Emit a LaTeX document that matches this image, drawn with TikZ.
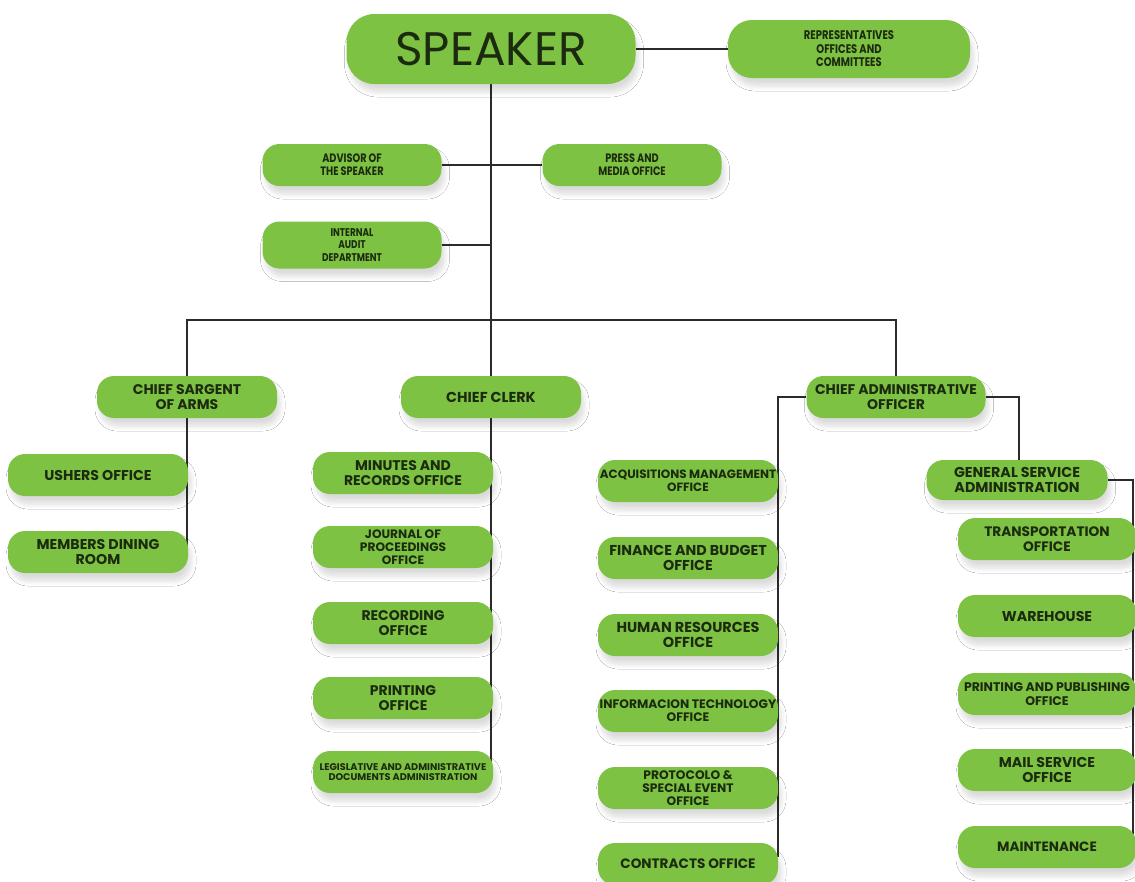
\documentclass[tikz,border=0pt]{standalone}
\usepackage{fontspec}
\setmainfont{Poppins}
\newfontfamily\condfont{Poppins}[FakeStretch=0.8]
\usetikzlibrary{backgrounds,shadows.blur}
\definecolor{boxgreen}{HTML}{7DC242}
\definecolor{txt}{HTML}{1C2A10}
\definecolor{ln}{HTML}{2B2B2B}
\newcommand{\fz}[1]{\fontsize{#1}{\dimexpr #1*108/100\relax}\selectfont}
\tikzset{
  box/.style={fill=boxgreen, draw=none, rounded corners=17pt, text=txt, align=center,
    inner sep=0pt, minimum height=42pt,
    blur shadow={shadow xshift=3pt, shadow yshift=-8pt, shadow opacity=14, shadow blur steps=6, shadow blur radius=5pt}},
  tb/.style={box, font=\bfseries\fz{#1}},
  tb/.default=11pt,
  cb/.style={box, font=\condfont\bfseries\fz{#1}},
  conn/.style={draw=ln, line width=2pt},
}
\begin{document}
\begin{tikzpicture}[x=1pt,y=-1pt]
\useasboundingbox (0,0) rectangle (1135,881);
% top
\node[box, minimum width=289pt, minimum height=70pt, rounded corners=28pt, font=\fz{47pt}] (speaker) at (491,49) {SPEAKER};
\node[cb=12.5pt, minimum width=242pt, minimum height=58pt, rounded corners=24pt] (reps) at (849,49) {REPRESENTATIVES\\OFFICES AND\\COMMITTEES};
\node[cb=12.2pt, minimum width=179pt] (advisor) at (352,165) {ADVISOR OF\\THE SPEAKER};
\node[cb=12.2pt, minimum width=179pt] (press) at (632,165) {PRESS AND\\MEDIA OFFICE};
\node[cb=11.2pt, minimum width=179pt, minimum height=47pt] (audit) at (352,245) {INTERNAL\\AUDIT\\DEPARTMENT};
% level 2
\node[tb=14pt, minimum width=180pt] (sargent) at (187,397) {CHIEF SARGENT\\OF ARMS};
\node[tb=14.4pt, minimum width=180pt] (clerk) at (491,397) {CHIEF CLERK};
\node[tb=14pt, minimum width=179pt] (cao) at (896,397) {CHIEF ADMINISTRATIVE\\OFFICER};
\coordinate (bus) at (491,320);
% sargent column
\node[tb=14.2pt, minimum width=180pt] (ushers) at (98,475) {USHERS OFFICE};
\node[tb=14.2pt, minimum width=180pt] (members) at (98,552) {MEMBERS DINING\\ROOM};
% clerk column
\node[tb=14pt, minimum width=180pt] (minutes) at (403,473) {MINUTES AND\\RECORDS OFFICE};
\node[tb=12.2pt, minimum width=180pt] (journal) at (403,547) {JOURNAL OF\\PROCEEDINGS\\OFFICE};
\node[tb=14pt, minimum width=180pt] (recording) at (403,623) {RECORDING\\OFFICE};
\node[tb=14pt, minimum width=180pt] (printing) at (403,698) {PRINTING\\OFFICE};
\node[tb=9.7pt, minimum width=180pt] (legis) at (403,772) {LEGISLATIVE AND ADMINISTRATIVE\\DOCUMENTS ADMINISTRATION};
% cao left column
\node[tb=12pt, minimum width=180pt] (acq) at (688,481) {ACQUISITIONS MANAGEMENT\\OFFICE};
\node[tb=14.3pt, minimum width=180pt] (finance) at (688,558) {FINANCE AND BUDGET\\OFFICE};
\node[tb=14.4pt, minimum width=180pt] (hr) at (688,635) {HUMAN RESOURCES\\OFFICE};
\node[tb=12.3pt, minimum width=180pt] (it) at (688,711) {INFORMACION TECHNOLOGY\\OFFICE};
\node[tb=12.3pt, minimum width=180pt] (proto) at (688,788) {PROTOCOLO \&\\SPECIAL EVENT\\OFFICE};
\node[tb=13.6pt, minimum width=180pt] (contracts) at (688,864) {CONTRACTS OFFICE};
% cao right column
\node[tb=14.3pt, minimum width=181pt, minimum height=40pt] (gsa) at (1017,480) {GENERAL SERVICE\\ADMINISTRATION};
\node[tb=13.7pt, minimum width=178pt] (transport) at (1047,539) {TRANSPORTATION\\OFFICE};
\node[tb=14.2pt, minimum width=178pt] (warehouse) at (1047,616) {WAREHOUSE};
\node[tb=12.5pt, minimum width=178pt] (pp) at (1047,694) {PRINTING AND PUBLISHING\\OFFICE};
\node[tb=14.2pt, minimum width=178pt] (mail) at (1047,770) {MAIL SERVICE\\OFFICE};
\node[tb=13.5pt, minimum width=178pt] (maint) at (1047,847) {MAINTENANCE};
\coordinate (rbus) at (1133,0);
% connectors
\begin{scope}[on background layer]
\fill[white] (0,0) rectangle (1135,881);
\draw[conn] (speaker.east) -- (reps.west);
\draw[conn] (speaker.south) -- (clerk.north);
\draw[conn] (advisor.east) -- (press.west);
\draw[conn] (audit.east) -- (audit.east -| speaker.south);
\draw[conn] (sargent.north) -- (sargent.north |- bus) -- (cao.north |- bus) -- (cao.north);
\draw[conn] (sargent.south) -- (sargent.south |- members.east);
\draw[conn] (clerk.south) -- ([yshift=-5pt]clerk.south |- legis.east);
\draw[conn] (cao.west) -| ([yshift=7pt]contracts.east);
\draw[conn] (cao.east) -| ([xshift=2pt]gsa.north);
\draw[conn] (gsa.east) -- (gsa.east -| rbus) -- ([yshift=-20pt]rbus |- maint.north);
\end{scope}
\end{tikzpicture}
\end{document}
